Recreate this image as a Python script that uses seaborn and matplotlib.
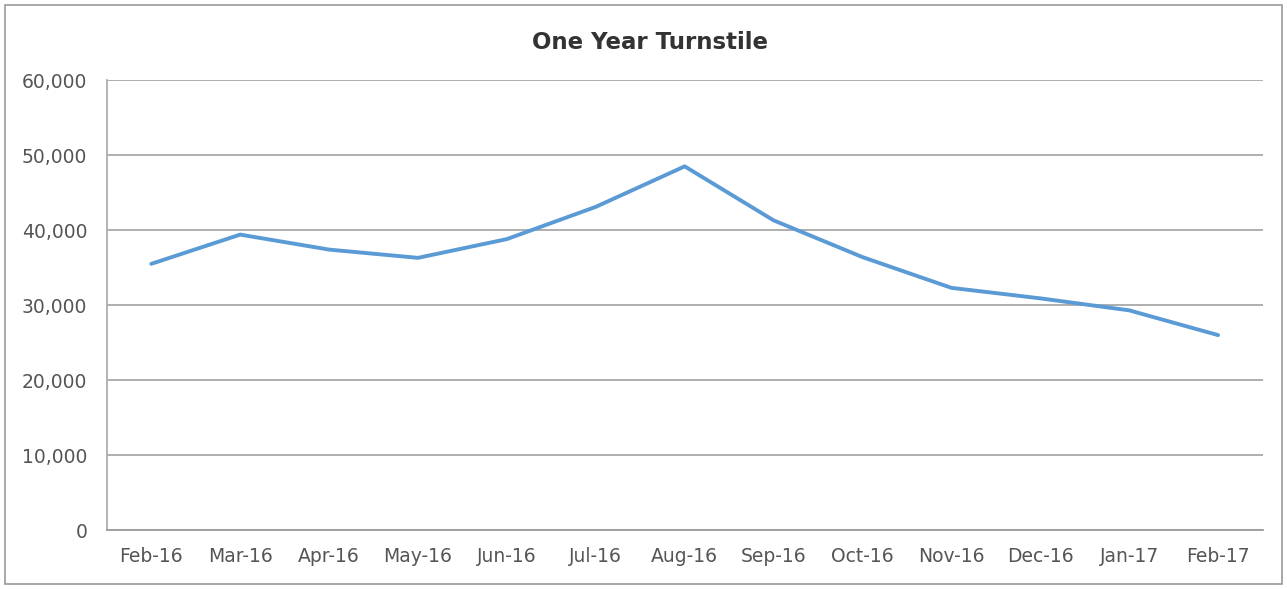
import matplotlib
matplotlib.use("Agg")
import matplotlib.pyplot as plt
import seaborn as sns
import pandas as pd
from matplotlib.patches import Rectangle
from matplotlib.ticker import FuncFormatter

months = ["Feb-16", "Mar-16", "Apr-16", "May-16", "Jun-16", "Jul-16", "Aug-16",
          "Sep-16", "Oct-16", "Nov-16", "Dec-16", "Jan-17", "Feb-17"]
turnstile = [35500, 39400, 37400, 36300, 38800, 43100, 48500,
             41300, 36400, 32300, 30900, 29300, 26000]
y_ticks = [0, 10000, 20000, 30000, 40000, 50000, 60000]

df = pd.DataFrame({"month": months, "count": turnstile})

sns.set_theme(style="white")
plt.rcParams['font.family'] = ['DejaVu Sans']

fig = plt.figure(figsize=(12.87, 5.89), dpi=100)
ax = fig.add_axes([0.083, 0.100, 0.898, 0.764])

sns.lineplot(data=df, x="month", y="count", ax=ax, color="#5B9BD5",
             linewidth=2.8, sort=False)

ax.set_xlim(-0.5, len(months) - 0.5)
ax.set_ylim(0, 60000)
ax.set_yticks(y_ticks)
ax.yaxis.set_major_formatter(FuncFormatter(lambda v, p: f"{int(v):,}"))
ax.grid(axis="y", color="#999999", linewidth=1.1)
ax.set_axisbelow(True)
ax.set_xlabel("")
ax.set_ylabel("")

for side in ["top", "right"]:
    ax.spines[side].set_visible(False)
ax.spines["left"].set_color("#aaaaaa")
ax.spines["bottom"].set_color("#999999")
ax.tick_params(axis="both", length=0, labelsize=13.5, colors="#555555")
ax.tick_params(axis="x", pad=12)
ax.tick_params(axis="y", pad=14)

fig.suptitle("One Year Turnstile", x=0.505, y=0.948, fontsize=16.5,
             fontweight="bold", color="#333333")

fig.patches.append(Rectangle((0.004, 0.008), 0.992, 0.984, transform=fig.transFigure,
                             fill=False, edgecolor="#999999", linewidth=1.2))

plt.savefig("out.png", dpi=100)
plt.close()
